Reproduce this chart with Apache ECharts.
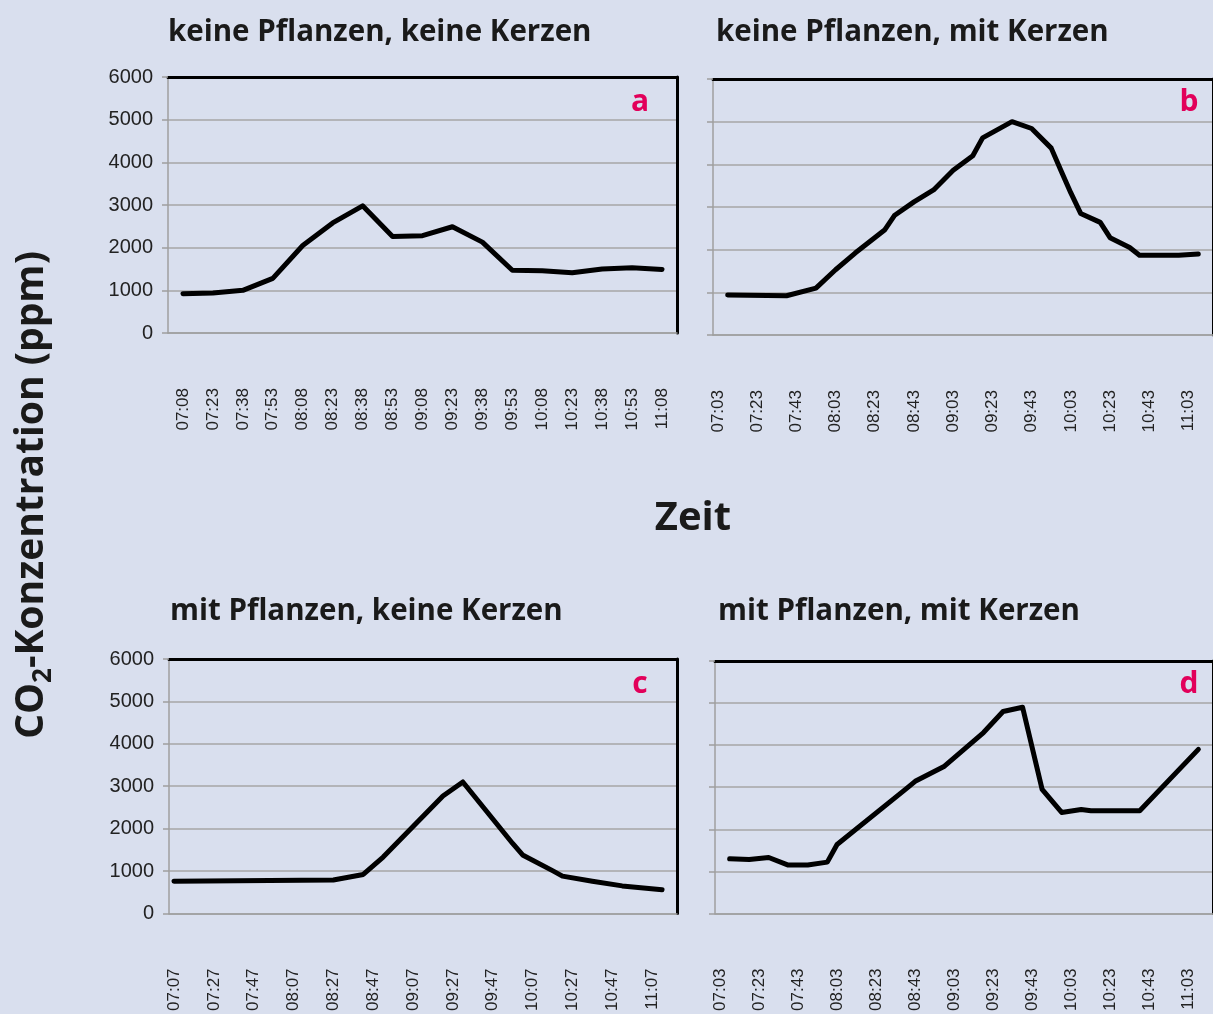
<!DOCTYPE html>
<html lang="de">
<head>
    <meta charset="UTF-8">
    <title>CO2-Konzentration</title>
    <script src="https://cdn.jsdelivr.net/npm/echarts@6/dist/echarts.min.js"></script>
    <style>
        html, body { margin: 0; padding: 0; background: #d9dfee; }
        #container { width: 1213px; height: 1014px; }
    </style>
</head>
<body>
<div id="container"></div>
<script type="text/javascript">

    // Zeitachsen (a: 15-Minuten-Schritte, b/c/d: 5-Minuten-Schritte)
    var timesA = ['07:08', '07:23', '07:38', '07:53', '08:08', '08:23', '08:38', '08:53', '09:08',
        '09:23', '09:38', '09:53', '10:08', '10:23', '10:38', '10:53', '11:08'];

    var timesBD = [
        '07:03', '07:08', '07:13', '07:18', '07:23', '07:28', '07:33', '07:38', '07:43', '07:48', '07:53', '07:58',
        '08:03', '08:08', '08:13', '08:18', '08:23', '08:28', '08:33', '08:38', '08:43', '08:48', '08:53', '08:58',
        '09:03', '09:08', '09:13', '09:18', '09:23', '09:28', '09:33', '09:38', '09:43', '09:48', '09:53', '09:58',
        '10:03', '10:08', '10:13', '10:18', '10:23', '10:28', '10:33', '10:38', '10:43', '10:48', '10:53', '10:58',
        '11:03', '11:08', '11:13'];

    var timesC = [
        '07:07', '07:12', '07:17', '07:22', '07:27', '07:32', '07:37', '07:42', '07:47', '07:52', '07:57', '08:02',
        '08:07', '08:12', '08:17', '08:22', '08:27', '08:32', '08:37', '08:42', '08:47', '08:52', '08:57', '09:02',
        '09:07', '09:12', '09:17', '09:22', '09:27', '09:32', '09:37', '09:42', '09:47', '09:52', '09:57', '10:02',
        '10:07', '10:12', '10:17', '10:22', '10:27', '10:32', '10:37', '10:42', '10:47', '10:52', '10:57', '11:02',
        '11:07', '11:12', '11:17'];

    // CO2-Werte in ppm (null = kein Messpunkt, Linie wird durchgezogen)
    var co2A = [920, 940, 1000, 1280, 2050, 2580, 2980, 2260, 2280, 2490, 2130, 1470, 1460, 1410, 1500, 1530, 1490];

    var co2B = [
        null, 940, null, null, null, null, null, 920, null, null, 1100, null,
        1530, null, 1920, null, null, 2460, 2800, null, 3120, null, 3400, null,
        3860, null, 4200, 4620, null, null, 5000, null, 4840, null, 4380, 3850,
        3330, 2850, null, 2640, 2280, null, 2050, 1870, null, null, null, 1870,
        null, 1900, null];

    var co2C = [
        760, null, null, null, null, null, null, null, null, null, null, null,
        null, null, null, null, 790, null, null, 920, null, 1330, null, null,
        null, null, null, 2770, null, 3100, null, null, null, null, 1650, 1380,
        null, null, 1010, 880, null, null, 760, null, null, 650, null, null,
        null, 560, null];

    var co2D = [
        null, 1300, null, 1280, null, 1330, null, 1150, null, 1150, null, 1220,
        1640, null, null, null, null, null, null, 2950, 3140, null, null, 3500,
        null, null, null, 4300, null, 4800, null, 4900, null, 2950, null, 2400,
        null, 2470, 2440, null, null, null, null, 2440, null, null, null, null,
        null, 3900, null];

    var titles = ['keine Pflanzen, keine Kerzen', 'keine Pflanzen, mit Kerzen',
        'mit Pflanzen, keine Kerzen', 'mit Pflanzen, mit Kerzen'];
    var letters = ['a', 'b', 'c', 'd'];

    var panels = [
        {box: {left: 168, top: 77, width: 509, height: 256}, cats: timesA, data: co2A, labelEvery: 0, tickEvery: 0, showY: true},
        {box: {left: 713, top: 79, width: 509, height: 256}, cats: timesBD, data: co2B, labelEvery: 3, tickEvery: 2, showY: false},
        {box: {left: 169, top: 659, width: 508, height: 257}, cats: timesC, data: co2C, labelEvery: 3, tickEvery: 2, showY: true},
        {box: {left: 715, top: 661, width: 509, height: 257}, cats: timesBD, data: co2D, labelEvery: 3, tickEvery: 2, showY: false}
    ];

    var titlePos = [[168, 33], [716, 33], [170, 612], [718, 612]];
    var letterPos = [[640, 102], [1189, 102], [640, 684], [1189, 684]];

    var gray = '#9f9f9f';
    var grids = [], xAxes = [], yAxes = [], series = [], graphics = [];

    panels.forEach(function (p, i) {
        grids.push(Object.assign({containLabel: false}, p.box));

        xAxes.push({
            type: 'category', gridIndex: i, position: 'bottom', data: p.cats, boundaryGap: true,
            axisLine: {onZero: false, lineStyle: {color: gray, width: 1.5}},
            axisTick: {interval: p.tickEvery, length: 9, lineStyle: {color: gray, width: 1.5}},
            axisLabel: {interval: p.labelEvery, rotate: 90, margin: 55, fontSize: 17,
                color: '#222', fontFamily: 'Liberation Sans'},
            splitLine: {show: false}
        });
        xAxes.push({
            type: 'category', gridIndex: i, position: 'top', data: p.cats,
            axisLine: {onZero: false, lineStyle: {color: '#000', width: 3}},
            axisTick: {show: false}, axisLabel: {show: false}, splitLine: {show: false}
        });

        yAxes.push({
            type: 'value', gridIndex: i, position: 'left', min: 0, max: 6000, interval: 1000,
            axisLine: {show: true, onZero: false, lineStyle: {color: gray, width: 1.5}},
            axisTick: {show: true, length: 6, lineStyle: {color: gray, width: 1.5}},
            axisLabel: {show: p.showY, fontSize: 20, margin: 15, color: '#222', fontFamily: 'Liberation Sans',
                formatter: function (v) { return String(v); }},
            splitLine: {show: true, lineStyle: {color: '#a6a6a6', width: 1.5}}
        });
        yAxes.push({
            type: 'value', gridIndex: i, position: 'right', min: 0, max: 6000, interval: 1000,
            axisLine: {show: true, onZero: false, lineStyle: {color: '#000', width: 3}},
            axisTick: {show: false}, axisLabel: {show: false}, splitLine: {show: false}
        });

        series.push({
            type: 'line', xAxisIndex: 2 * i, yAxisIndex: 2 * i, data: p.data,
            connectNulls: true, symbol: 'none', z: 5,
            lineStyle: {color: '#000', width: 5, cap: 'round', join: 'round'}
        });

        graphics.push({
            type: 'text', x: titlePos[i][0], y: titlePos[i][1],
            style: {text: titles[i], fill: '#1a1a1a', font: 'bold 29.5px "Open Sans"', verticalAlign: 'middle'}
        });
        graphics.push({
            type: 'text', x: letterPos[i][0], y: letterPos[i][1],
            style: {text: letters[i], fill: '#e2005a', font: 'bold 30px "Open Sans"', align: 'center', verticalAlign: 'middle'}
        });
    });

    graphics.push({
        type: 'text', x: 693, y: 519,
        style: {text: 'Zeit', fill: '#1a1a1a', font: 'bold 40px "Open Sans"', align: 'center', verticalAlign: 'middle'}
    });
    graphics.push({
        type: 'text', x: 32, y: 495, rotation: Math.PI / 2,
        style: {
            text: '{n|CO}{s|2}{n|-Konzentration (ppm)}',
            align: 'center', verticalAlign: 'middle',
            rich: {
                n: {fill: '#1a1a1a', fontSize: 39, fontWeight: 'bold', fontFamily: 'Open Sans', lineHeight: 44},
                s: {fill: '#1a1a1a', fontSize: 26, fontWeight: 'bold', fontFamily: 'Open Sans', lineHeight: 26, padding: [24, 0, 0, 0]}
            }
        }
    });

    var myChart = echarts.init(document.getElementById('container'), null, {renderer: 'canvas'});
    myChart.setOption({
        backgroundColor: '#d9dfee',
        animation: false,
        grid: grids,
        xAxis: xAxes,
        yAxis: yAxes,
        series: series,
        graphic: graphics
    });
</script>
</body>
</html>
